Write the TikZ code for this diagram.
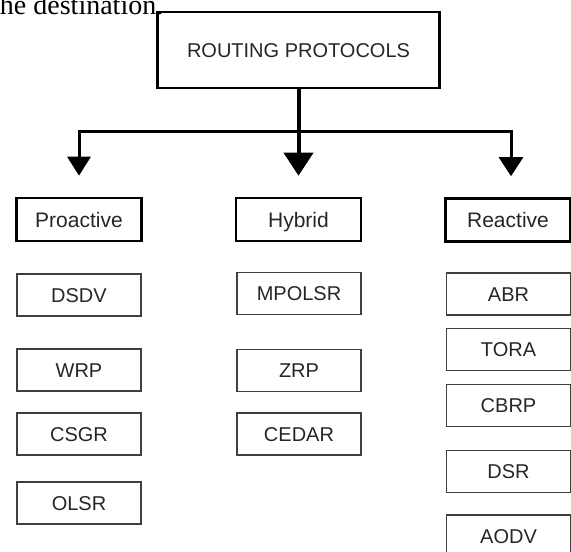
\documentclass[tikz,border=0pt]{standalone}
\usepackage{fontspec}
\setmainfont{Liberation Sans}
\newfontfamily\prosefont{Liberation Serif}
\usetikzlibrary{arrows.meta}
\begin{document}
\begin{tikzpicture}[x=1pt,y=-1pt,
    root/.style ={rectangle, draw, line width=2.8pt, inner sep=0pt, minimum width=282pt, minimum height=76pt, text height=14.4pt, text depth=0pt, text=black!85, font=\fontsize{20}{24}\selectfont},
    family/.style ={rectangle, draw, line width=2.6pt, inner sep=0pt, minimum width=125pt, minimum height=43pt, text height=15pt, text depth=0pt, text=black!85, font=\fontsize{21}{25}\selectfont},
    protocol/.style ={rectangle, draw=black!75, line width=1.5pt, inner sep=0pt, minimum width=124pt, minimum height=42pt, text height=14.4pt, text depth=0pt, text=black!85, font=\fontsize{20}{24}\selectfont},
    branch/.style ={line width=3pt, shorten >=21pt, -{Triangle[width=23pt,length=19pt]}}]
   \useasboundingbox (0,0) rectangle (571,552);
   \node[anchor=base west, inner sep=0pt, font=\prosefont\fontsize{28}{33}\selectfont] (prose) at (-8,14) {the destination.};
   \node[root] (routing) at (298.5,50) {ROUTING PROTOCOLS};
   \node[family] (proactive) at (79,219.5) {Proactive};
   \node[family] (hybrid) at (298.5,219.5) {Hybrid};
   \node[family] (reactive) at (508,220) {Reactive};
   \node[protocol] (dsdv) at (79,295) {DSDV};
   \node[protocol] (wrp) at (79,370) {WRP};
   \node[protocol] (csgr) at (79,434) {CSGR};
   \node[protocol] (olsr) at (79,503) {OLSR};
   \node[protocol] (mpolsr) at (299,293.5) {MPOLSR};
   \node[protocol] (zrp) at (299,370.5) {ZRP};
   \node[protocol] (cedar) at (299,434) {CEDAR};
   \node[protocol] (abr) at (508.5,294) {ABR};
   \node[protocol] (tora) at (508.5,349.5) {TORA};
   \node[protocol] (cbrp) at (508.5,405.5) {CBRP};
   \node[protocol] (dsr) at (508.5,471.5) {DSR};
   \node[protocol] (aodv) at (508.5,536) {AODV};
   \coordinate (fork) at (298.5,131);
   \draw[branch, line width=4pt, -{Triangle[width=29pt,length=23pt]}] (routing) -- (hybrid);
   \draw[branch] (fork) -| (proactive);
   \draw[branch, -{Triangle[width=24pt,length=19pt]}] (fork) -| ([xshift=3pt]reactive.north);
\end{tikzpicture}
\end{document}
